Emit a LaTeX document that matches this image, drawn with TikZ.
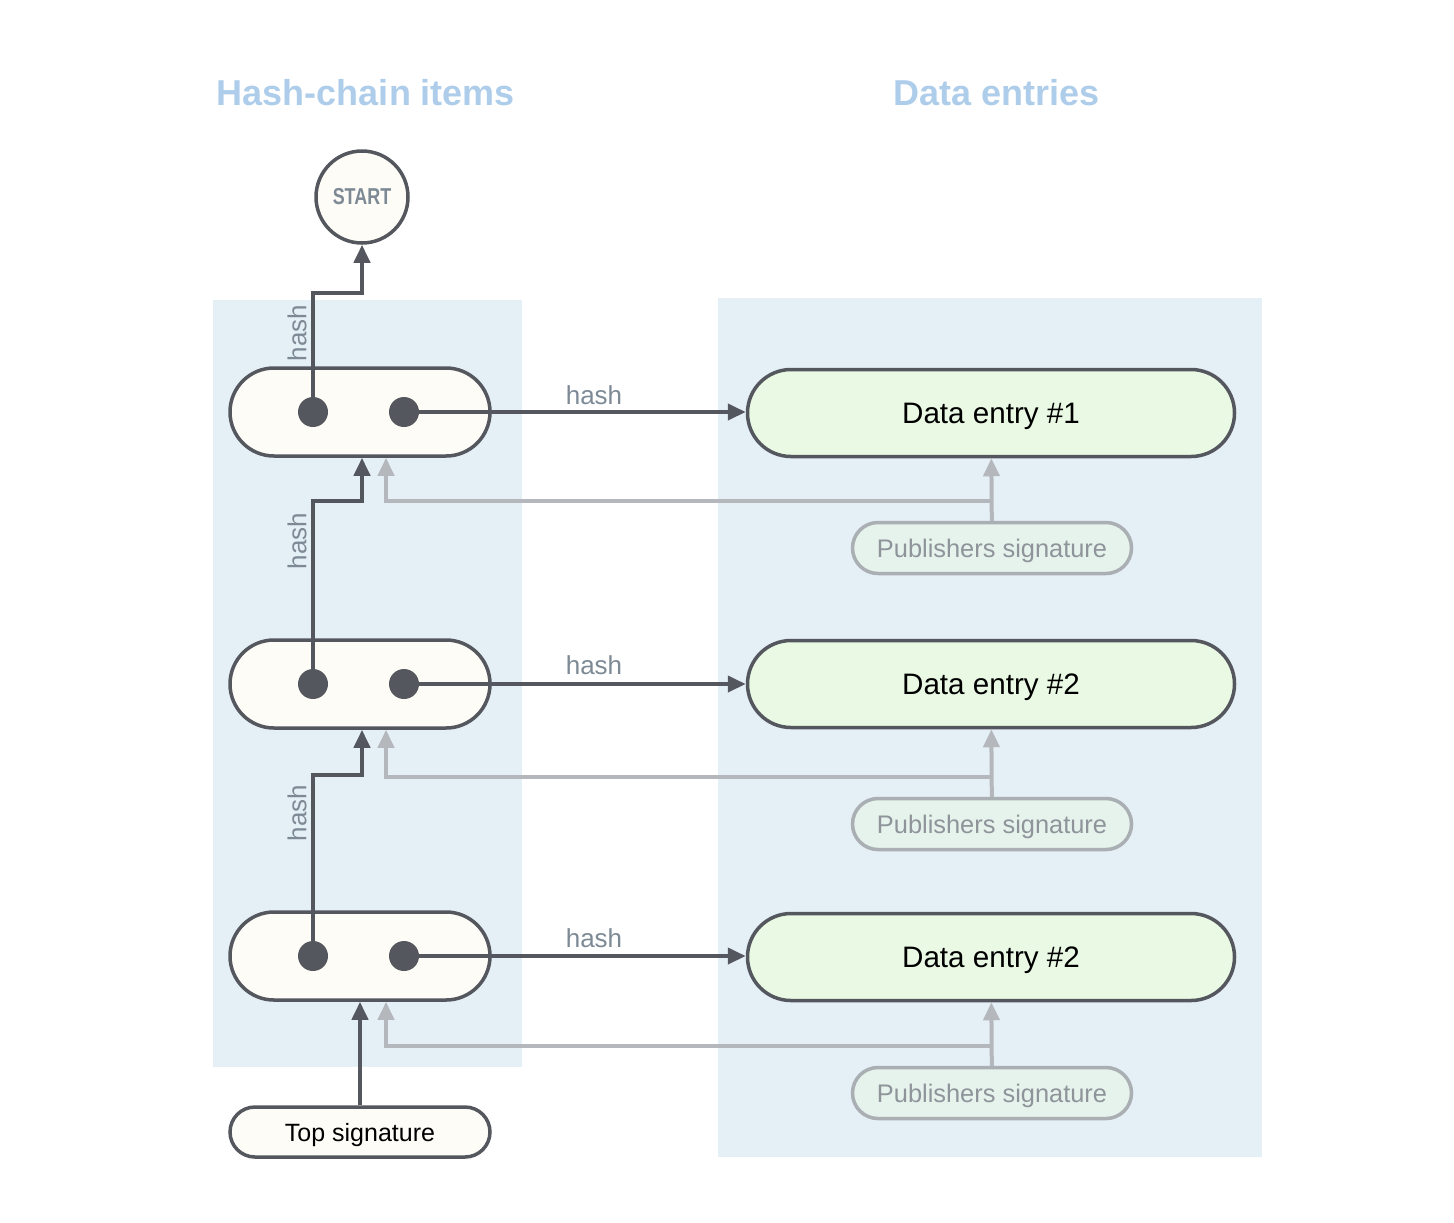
\documentclass[tikz,border=0pt]{standalone}
\usepackage{fontspec}
\setmainfont{Liberation Sans}
\usetikzlibrary{positioning}
\usetikzlibrary{arrows.meta}
\definecolor{darkline}{RGB}{85,87,94}
\definecolor{greyline}{RGB}{180,184,188}
\definecolor{cream}{RGB}{253,252,246}
\definecolor{panelblue}{RGB}{229,239,246}
\definecolor{titleblue}{RGB}{174,205,234}
\definecolor{entrygreen}{RGB}{233,249,227}
\definecolor{sigfill}{RGB}{230,242,236}
\definecolor{sigline}{RGB}{170,175,179}
\definecolor{sigtext}{RGB}{142,148,153}
\definecolor{hashtext}{RGB}{125,138,150}
\tikzset{%
  chainarrow/.style = {-{Triangle[length=9pt,width=8pt]},line width=2pt,
        draw=darkline},
  sigarrow/.style = {-{Triangle[length=9pt,width=8pt]},line width=2pt,
        draw=greyline},
  panel/.style = {fill=panelblue},
  title/.style = {text=titleblue,font=\fontsize{18}{22}\selectfont\bfseries},
  startc/.style = {circle,draw=darkline,fill=cream,line width=1.75pt,
        minimum size=46pt,inner sep=0pt,text=hashtext,
        font=\fontsize{11.5}{13}\selectfont\bfseries},
  item/.style = {rectangle,rounded corners=22pt,draw=darkline,fill=cream,
        line width=1.75pt,minimum width=130pt,minimum height=44pt},
  dot/.style = {circle,fill=darkline,minimum size=15pt,inner sep=0pt},
  entry/.style = {rectangle,rounded corners=21.75pt,draw=darkline,
        fill=entrygreen,line width=1.75pt,minimum width=243.5pt,
        minimum height=43.5pt,text depth=0pt,
        font=\fontsize{14.8}{17}\selectfont},
  pubsig/.style = {rectangle,rounded corners=12.75pt,draw=sigline,
        fill=sigfill,line width=1.75pt,minimum width=139.5pt,
        minimum height=25.5pt,inner sep=0pt,text depth=0pt,text=sigtext,
        font=\fontsize{12.7}{15}\selectfont},
  topsig/.style = {rectangle,rounded corners=12.5pt,draw=darkline,
        fill=cream,line width=1.75pt,minimum width=130pt,
        minimum height=25pt,inner sep=0pt,text depth=0pt,
        font=\fontsize{12.5}{15}\selectfont},
  hashlabel/.style = {text=hashtext,inner sep=0pt,
        font=\fontsize{13}{15}\selectfont}
}
\begin{document}
\begin{tikzpicture}[x=0.5pt,y=-0.5pt]
   \useasboundingbox (0,0) rectangle (1454,1222);
   % background panels
   \fill[panel] (213,300) rectangle (522,1067);
   \fill[panel] (718,298) rectangle (1262,1157);

   \node[title] (chaintitle) at (366,93) {Hash-chain items};
   \node[title] (datatitle) at (997,93) {Data entries};

   % hash-chain items
   \node[startc] (start) at (362,197) {\scalebox{0.78}[1]{START}};
   \node[item] (item1) at (360,412) {};
   \node[item] (item2) at (360,684) {};
   \node[item] (item3) at (360,956) {};
   \node[dot] (prev1) at (313,412) {};
   \node[dot] (data1) at (404,412) {};
   \node[dot] (prev2) at (313,684) {};
   \node[dot] (data2) at (404,684) {};
   \node[dot] (prev3) at (313,956) {};
   \node[dot] (data3) at (404,956) {};
   \node[topsig] (topsig) at (360,1132) {Top signature};

   % data entries
   \node[entry] (entry1) at (991,413) {Data entry \#1};
   \node[entry] (entry2) at (991,684) {Data entry \#2};
   \node[entry] (entry3) at (991,957) {Data entry \#2};
   \node[pubsig] (sig1) at (992,548) {Publishers signature};
   \node[pubsig] (sig2) at (992,824) {Publishers signature};
   \node[pubsig] (sig3) at (992,1093) {Publishers signature};

   \coordinate (knee0) at (362,293);
   \coordinate (knee1) at (362,501);
   \coordinate (knee2) at (362,775);
   \coordinate (fork1) at (992,501);
   \coordinate (fork2) at (992,777);
   \coordinate (fork3) at (992,1046);
   \coordinate (back1) at (386,501);
   \coordinate (back2) at (386,777);
   \coordinate (back3) at (386,1046);

   % signature links
   \draw[sigarrow] (sig1) -- (entry1);
   \draw[sigarrow] (sig2) -- (entry2);
   \draw[sigarrow] (sig3) -- (entry3);
   \draw[sigarrow] (fork1) -- (back1) -- (back1 |- item1.south);
   \draw[sigarrow] (fork2) -- (back2) -- (back2 |- item2.south);
   \draw[sigarrow] (fork3) -- (back3) -- (back3 |- item3.south);

   % hash links
   \draw[chainarrow] (prev1.center) |- (knee0) -- (start.south);
   \draw[chainarrow] (prev2.center) |- (knee1) -- (knee1 |- item1.south);
   \draw[chainarrow] (prev3.center) |- (knee2) -- (knee2 |- item2.south);
   \draw[chainarrow] (topsig) -- (item3);
   \draw[chainarrow] (data1.center) -- (data1 -| entry1.west);
   \draw[chainarrow] (data2.center) -- (data2 -| entry2.west);
   \draw[chainarrow] (data3.center) -- (data3 -| entry3.west);

   \node[hashlabel] (hashr1) at (594,395) {hash};
   \node[hashlabel] (hashr2) at (594,665) {hash};
   \node[hashlabel] (hashr3) at (594,938) {hash};
   \node[hashlabel,rotate=90] (hashu1) at (297,333) {hash};
   \node[hashlabel,rotate=90] (hashu2) at (297,541) {hash};
   \node[hashlabel,rotate=90] (hashu3) at (297,813) {hash};
\end{tikzpicture}
\end{document}
